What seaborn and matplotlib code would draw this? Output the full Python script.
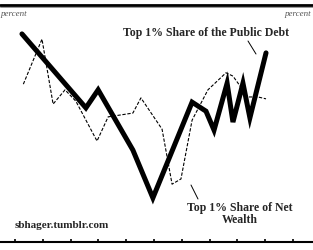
import matplotlib
matplotlib.use("Agg")
import matplotlib.pyplot as plt
import seaborn as sns
import pandas as pd
from matplotlib.lines import Line2D

# Top 1% share of net wealth (dashed, thin)
wealth_years = [1923, 1929.7, 1933.7, 1938, 1941.9, 1949.5, 1953.5, 1962.4, 1965.3,
                1972.9, 1976.5, 1979.7, 1983.7, 1989.4, 1995.9, 1998.4, 2003.8, 2007.4, 2010.3]
wealth_share = [33.3, 42.8, 29.1, 32.1, 29.7, 21.3, 26.4, 27.2, 30.4,
                23.8, 12.2, 13.3, 25.7, 32.1, 35.7, 35.0, 30.6, 30.6, 30.2]

# Top 1% share of the public debt (thick)
debt_years = [1922.5, 1945.5, 1949.9, 1962.4, 1969.6, 1983.7, 1988.7, 1991.6,
              1996.3, 1998.4, 2002.0, 2004.5, 2010.3]
debt_share = [43.9, 28.3, 32.1, 19.4, 9.3, 29.5, 27.6, 23.6,
              33.5, 25.3, 33.5, 26.2, 39.9]

tick_years = [1920, 1930, 1940, 1950, 1960, 1970, 1980, 1990, 2000, 2010, 2020]

sns.set_style("white")
plt.rcParams['font.family'] = ['Liberation Serif', 'DejaVu Serif']

fig = plt.figure(figsize=(3.13, 2.5), dpi=100)
ax = fig.add_axes([0, 0.032, 1, 0.948])

wdf = pd.DataFrame({"year": wealth_years, "share": wealth_share})
ddf = pd.DataFrame({"year": debt_years, "share": debt_share})

sns.lineplot(data=wdf, x="year", y="share", ax=ax, color="black",
             linewidth=0.8, linestyle=(0, (3, 1.5)), sort=False)
sns.lineplot(data=ddf, x="year", y="share", ax=ax, color="black",
             linewidth=3.6, sort=False, solid_capstyle="round", solid_joinstyle="miter")

ax.set_xlim(1914.6, 2027.2)
ax.set_ylim(0, 50)
ax.set_xticks(tick_years)
ax.set_xticklabels([])
ax.set_yticks([])
ax.set_xlabel("")
ax.set_ylabel("")
for s in ["top", "left", "right"]:
    ax.spines[s].set_visible(False)
ax.spines["bottom"].set_linewidth(1.5)
ax.spines["bottom"].set_color("black")
ax.tick_params(axis="x", direction="in", length=2.5, width=1.2, color="black", bottom=True)
ax.patch.set_alpha(0)

# top rule
fig.add_artist(Line2D([0, 1], [1 - 4.5 / 250, 1 - 4.5 / 250], transform=fig.transFigure,
                      color="black", linewidth=2.0))
fig.add_artist(Line2D([0, 1], [1 - 6.8 / 250, 1 - 6.8 / 250], transform=fig.transFigure,
                      color="#888888", linewidth=0.6))

# percent labels
fig.text(0.5 / 313, 1 - 14 / 250, "percent", fontsize=6.5, style="italic", color="#555555",
         ha="left", va="center")
fig.text(311 / 313, 1 - 14 / 250, "percent", fontsize=6.5, style="italic", color="#555555",
         ha="right", va="center")

# annotations
fig.text(123 / 313, 1 - 33 / 250, "Top 1% Share of the Public Debt", fontsize=8.5,
         fontweight="bold", ha="left", va="center")
fig.add_artist(Line2D([248 / 313, 256 / 313], [1 - 41 / 250, 1 - 54 / 250],
                      transform=fig.transFigure, color="black", linewidth=0.7))

fig.text(240 / 313, 1 - 214 / 250, "Top 1% Share of Net\nWealth", fontsize=8.5,
         fontweight="bold", ha="center", va="center", linespacing=1.1)
fig.add_artist(Line2D([191 / 313, 198 / 313], [1 - 185 / 250, 1 - 199 / 250],
                      transform=fig.transFigure, color="black", linewidth=0.7))

fig.text(15 / 313, 1 - 225 / 250, "sbhager.tumblr.com", fontsize=8,
         fontweight="bold", ha="left", va="center")

fig.savefig("out.png", dpi=100, facecolor="white")
